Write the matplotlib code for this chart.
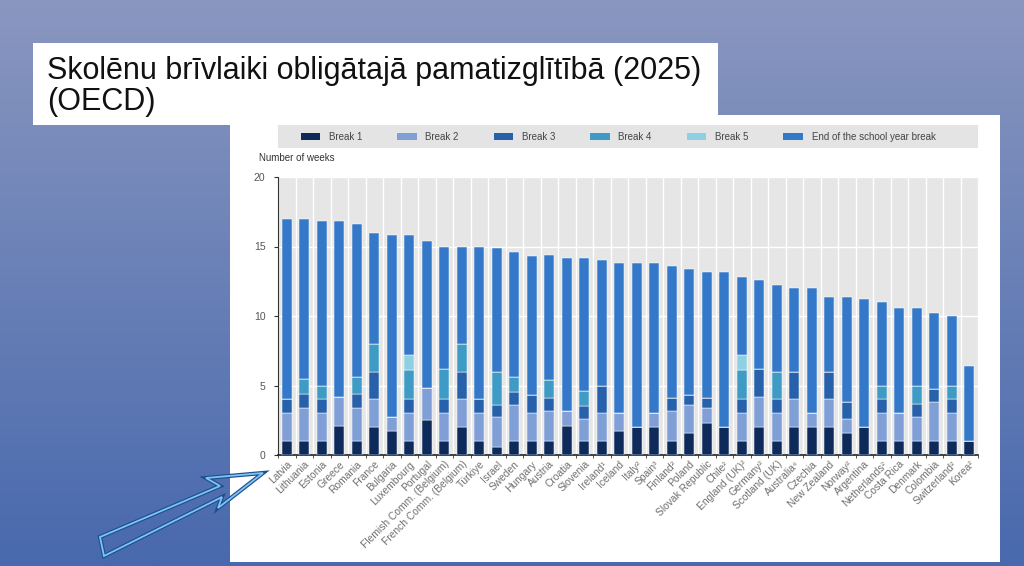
import numpy as np
import matplotlib
matplotlib.use("Agg")
import matplotlib.pyplot as plt
from matplotlib.patches import Rectangle, Polygon, Patch

plt.rcParams['font.family'] = ['Liberation Sans', 'DejaVu Sans']

countries = ["Latvia", "Lithuania", "Estonia", "Greece", "Romania", "France", "Bulgaria",
             "Luxembourg", "Portugal", "Flemish Comm. (Belgium)", "French Comm. (Belgium)",
             "Türkiye", "Israel", "Sweden", "Hungary", "Austria", "Croatia", "Slovenia",
             "Ireland¹", "Iceland", "Italy²", "Spain³", "Finland²", "Poland", "Slovak Republic",
             "Chile²", "England (UK)²", "Germany²", "Scotland (UK)", "Australia⁴", "Czechia",
             "New Zealand", "Norway²", "Argentina", "Netherlands²", "Costa Rica", "Denmark",
             "Colombia", "Switzerland²", "Korea²"]

break1 = [1, 1, 1, 2.1, 1, 2, 1.7, 1, 2.5, 1, 2, 1, 0.6, 1, 1, 1, 2.1, 1, 1, 1.7,
          2, 2, 1, 1.6, 2.3, 2, 1, 2, 1, 2, 2, 2, 1.6, 2, 1, 1, 1, 1, 1, 1]
break2 = [2, 2.4, 2, 2.1, 2.4, 2, 1.05, 2, 2.3, 2, 2, 2, 2.1, 2.6, 2, 2.2, 1.1, 1.6, 2, 1.3,
          0, 1, 2.2, 2, 1.05, 0, 2, 2.2, 2, 2, 1, 2, 1.0, 0, 2, 2, 1.75, 2.8, 2, 0]
break3 = [1, 1, 1, 0, 1, 2, 0, 1, 0, 1, 2, 1, 0.9, 0.95, 1.35, 0.9, 0, 0.95, 2, 0,
          0, 0, 0.9, 0.75, 0.75, 0, 1, 2, 1, 2, 0, 2, 1.2, 0, 1, 0, 0.95, 0.95, 1, 0]
break4 = [0, 1.05, 1, 0, 1.2, 2, 0, 2.1, 0, 2.2, 2, 0, 2.4, 1.05, 0, 1.3, 0, 1.05, 0, 0,
          0, 0, 0, 0, 0, 0, 2.1, 0, 2, 0, 0, 0, 0, 0, 1, 0, 1.3, 0, 1, 0]
break5 = [0, 0, 0, 0, 0, 0, 0, 1.1, 0, 0, 0, 0, 0, 0, 0, 0, 0, 0, 0, 0,
          0, 0, 0, 0, 0, 0, 1.1, 0, 0, 0, 0, 0, 0, 0, 0, 0, 0, 0, 0, 0]
end_break = [13, 11.5, 11.8, 12.6, 11.0, 8.0, 13.1, 8.6, 10.6, 8.8, 7.0, 11.0, 8.9, 9.0, 10.0,
             9.0, 11.0, 9.6, 9.0, 10.8, 11.8, 10.8, 9.5, 9.0, 9.1, 11.2, 5.6, 6.4, 6.2, 6.0,
             9.0, 5.4, 7.6, 9.2, 6.0, 7.6, 5.6, 5.5, 5.0, 5.4]

series_names = ["Break 1", "Break 2", "Break 3", "Break 4", "Break 5", "End of the school year break"]
series_colors = ["#0e2a5a", "#7f9fd6", "#2761ab", "#3d9bc5", "#8ecfe3", "#3479c9"]

W, H = 1024, 566
fig = plt.figure(figsize=(W / 100, H / 100), dpi=100)

# background slide
bg = fig.add_axes([0, 0, 1, 1])
bg.set_xlim(0, W)
bg.set_ylim(H, 0)
bg.axis("off")
grad = np.linspace(0, 1, 256)[:, None]
top = np.array([138, 151, 192]) / 255
bot = np.array([72, 105, 173]) / 255
img = top[None, None, :] * (1 - grad[:, :, None]) + bot[None, None, :] * grad[:, :, None]
bg.imshow(img, extent=[0, W, H, 0], aspect="auto", zorder=0)

# chart panel
bg.add_patch(Rectangle((230, 115), 770, 447, facecolor="white", edgecolor="none", zorder=1))
# legend background
bg.add_patch(Rectangle((278, 125), 700, 23, facecolor="#e4e4e4", edgecolor="none", zorder=2))
# title box
bg.add_patch(Rectangle((33, 43), 685, 82, facecolor="white", edgecolor="none", zorder=3))
bg.text(47, 79, "Skolēnu brīvlaiki obligātajā pamatizglītībā (2025)", fontsize=22,
        color="#111111", zorder=4, va="baseline")
bg.text(47, 110, "(OECD)", fontsize=22, color="#111111", zorder=4, va="baseline")
bg.text(259, 161, "Number of weeks", fontsize=7, color="#333333", zorder=4, va="baseline")

# arrow outline
arrow_pts = [(100, 537), (220, 486), (206, 478), (263, 473), (218, 508), (222, 497), (104, 556)]
bg.add_patch(Polygon(arrow_pts, closed=True, facecolor="none", edgecolor="#1f4f8f", lw=3.0, zorder=4))
bg.add_patch(Polygon(arrow_pts, closed=True, facecolor="none", edgecolor="#7cc6f5", lw=1.3, zorder=5))

# main plot
ax = fig.add_axes([278 / W, 1 - 455 / H, 700 / W, 278 / H])
ax.set_facecolor("#e6e6e6")
x = np.arange(len(countries))
series = [break1, break2, break3, break4, break5, end_break]
bottom = np.zeros(len(countries))
handles = []
for vals, name, col in zip(series, series_names, series_colors):
    vals = np.array(vals, dtype=float)
    ax.bar(x, vals, bottom=bottom, width=0.58, color=col, edgecolor="white",
           linewidth=0.35, zorder=3)
    bottom += vals
    handles.append(Patch(facecolor=col, edgecolor="none", label=name))

ax.set_xlim(-0.5, len(countries) - 0.5)
ax.set_ylim(0, 20)
ax.set_yticks([0, 5, 10, 15, 20])
ax.set_xticks(np.arange(len(countries) + 1) - 0.5, minor=True)
ax.grid(True, which="minor", axis="x", color="white", lw=1.0, zorder=1)
ax.grid(True, which="major", axis="y", color="white", lw=1.0, zorder=1)
ax.set_axisbelow(True)
ax.set_xticks(x)
ax.set_xticklabels(countries, rotation=45, ha="right", rotation_mode="anchor",
                   fontsize=7.4, color="#707070")
ax.tick_params(axis="x", which="major", length=0, pad=3)
ax.tick_params(axis="x", which="minor", length=2.5, color="#333333", direction="out")
ax.tick_params(axis="y", length=3, color="#333333", labelsize=7.5, labelcolor="#555555", pad=6)
for s in ["top", "right"]:
    ax.spines[s].set_visible(False)
ax.spines["left"].set_color("#333333")
ax.spines["bottom"].set_color("#222222")
ax.spines["left"].set_linewidth(0.8)
ax.spines["bottom"].set_linewidth(1.2)

fig.legend(handles=handles, loc="center", bbox_to_anchor=(618 / W, 1 - 137 / H), ncol=6,
           frameon=False, fontsize=7, handlelength=2.0, handleheight=0.8,
           handletextpad=0.9, columnspacing=3.6, labelcolor="#444444")

fig.savefig("out.png", dpi=100)
